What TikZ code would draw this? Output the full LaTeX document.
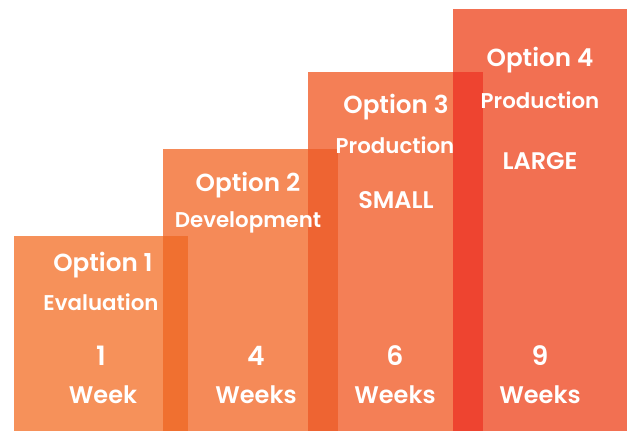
\documentclass[tikz,border=0pt]{standalone}
\usepackage{fontspec}
\setmainfont{Poppins}[BoldFont={Poppins SemiBold}]
\usepackage{tikz}

\definecolor{barA}{HTML}{F6915A}
\definecolor{barB}{HTML}{F58A58}
\definecolor{barC}{HTML}{F47F56}
\definecolor{barD}{HTML}{F27052}
\definecolor{lapAB}{HTML}{F07030}
\definecolor{lapBC}{HTML}{EE6432}
\definecolor{lapCD}{HTML}{EE4430}

\tikzset{
  head/.style={text=white,font=\bfseries\fontsize{18.5}{18.5}\selectfont,inner sep=0.75pt},
  sub/.style={text=white,font=\bfseries\fontsize{16}{16}\selectfont,inner sep=0.75pt},
  size/.style={text=white,font=\bfseries\fontsize{18}{18}\selectfont,inner sep=0.75pt},
  wk/.style={text=white,font=\bfseries\fontsize{18}{18}\selectfont,inner sep=0.75pt},
  num/.style={text=white,font=\bfseries\fontsize{20}{20}\selectfont,inner sep=0.75pt},
}

\begin{document}
\begin{tikzpicture}[x=0.75pt,y=0.75pt,yscale=-1,xscale=1]
\useasboundingbox (0,0) rectangle (629,431);

%Shape: Rectangle [id:bar1]
\fill [barA] (14,236) rectangle (188,431) ;
%Shape: Rectangle [id:bar2]
\fill [barB] (163,149) rectangle (338,431) ;
%Shape: Rectangle [id:bar3]
\fill [barC] (308,72) rectangle (483,431) ;
%Shape: Rectangle [id:bar4]
\fill [barD] (453,9) rectangle (627,431) ;
%Shape: overlaps
\fill [lapAB] (163,236) rectangle (188,431) ;
\fill [lapBC] (308,149) rectangle (338,431) ;
\fill [lapCD] (453,72) rectangle (483,431) ;

% Text Node
\node [head] (opt1) at (103,265) {Option 1};
\node [sub] (eval) at (101,302) {Evaluation};
\node [num] (n1) at (101,356) {1};
\node [wk] (w1) at (103,395) {Week};

% Text Node
\node [head] (opt2) at (248,185) {Option 2};
\node [sub] (dev) at (248,222) {Development};
\node [num] (n4) at (256,356) {4};
\node [wk] (w4) at (256,395) {Weeks};

% Text Node
\node [head] (opt3) at (396,107) {Option 3};
\node [sub] (prodS) at (395,145) {Production};
\node [size] (small) at (396,200) {SMALL};
\node [num] (n6) at (395,356) {6};
\node [wk] (w6) at (395,395) {Weeks};

% Text Node
\node [head] (opt4) at (540,60) {Option 4};
\node [sub] (prodL) at (540,100) {Production};
\node [size] (large) at (540,161) {LARGE};
\node [num] (n9) at (540,356) {9};
\node [wk] (w9) at (540,395) {Weeks};

\end{tikzpicture}
\end{document}
